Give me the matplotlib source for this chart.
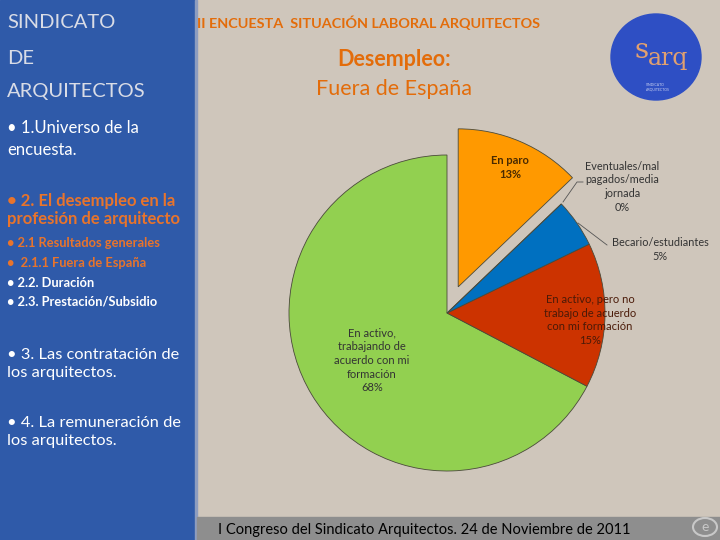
import matplotlib.pyplot as plt
from matplotlib.patches import Rectangle, Ellipse, Circle

# pie data (order: counterclockwise from top)
labels = ['En activo,\ntrabajando de\nacuerdo con mi\nformación',
          'En activo, pero no\ntrabajo de acuerdo\ncon mi formación',
          'Becario/estudiantes',
          'Eventuales/mal\npagados/media\njornada',
          'En paro']
values = [68, 15, 5, 0, 13]
pct_labels = ['68%', '15%', '5%', '0%', '13%']
colors = ['#92D050', '#CC3300', '#0070C0', '#7F7F7F', '#FF9900']
explode = [0, 0, 0, 0, 0.18]

menu_items = [
    ('• 1.Universo de la\nencuesta.', 'white', 12, 'normal'),
    ('• 2. El desempleo en la\nprofesión de arquitecto', '#E8742C', 12, 'bold'),
    ('• 2.1 Resultados generales', '#E8742C', 9.3, 'bold'),
    ('•  2.1.1 Fuera de España', '#E8742C', 9.3, 'bold'),
    ('• 2.2. Duración', 'white', 9.3, 'bold'),
    ('• 2.3. Prestación/Subsidio', 'white', 9.3, 'bold'),
    ('• 3. Las contratación de\nlos arquitectos.', 'white', 11.8, 'normal'),
    ('• 4. La remuneración de\nlos arquitectos.', 'white', 11.8, 'normal'),
]
menu_y = [139, 210, 243, 263, 283, 302, 364, 432]
menu_spacing = [1.44, 1.2, 1, 1, 1, 1, 1.4, 1.34]

plt.rcParams['font.family'] = ['Lato', 'DejaVu Sans']

W, H = 720, 540
fig = plt.figure(figsize=(7.2, 5.4), dpi=100)


def fx(x):
    return x / W


def fy(y):
    return 1 - y / H


# slide background
fig.add_artist(Rectangle((0, 0), 1, 1, transform=fig.transFigure, color='#CFC6BB', zorder=0))
fig.add_artist(Rectangle((0, 0), fx(195), 1, transform=fig.transFigure, color='#2F5AA9', zorder=0))
fig.add_artist(Rectangle((fx(195), 0), fx(2), 1, transform=fig.transFigure, color='#8E9DBF', zorder=0))
fig.add_artist(Rectangle((fx(197), 0), 1, 23 / H, transform=fig.transFigure, color='#8E8E8E', zorder=0))

# left panel header
for txt, y in [('SINDICATO', 22), ('DE', 58), ('ARQUITECTOS', 92)]:
    fig.text(fx(7), fy(y), txt, color='#D9DCE6', fontsize=14.5, va='center', ha='left')

for (txt, col, size, weight), y, ls in zip(menu_items, menu_y, menu_spacing):
    fig.text(fx(7), fy(y), txt, color=col, fontsize=size, fontweight=weight,
             va='center', ha='left', linespacing=ls)

# titles
fig.text(fx(197), fy(23), 'II ENCUESTA  SITUACIÓN LABORAL ARQUITECTOS', color='#E36C0A',
         fontsize=10.4, fontweight='bold', va='center', ha='left')
fig.text(fx(394), fy(60), 'Desempleo:', color='#E36C0A', fontsize=15.5, fontweight='bold',
         va='center', ha='center')
fig.text(fx(394), fy(89), 'Fuera de España', color='#E36C0A', fontsize=15.5,
         va='center', ha='center')

# logo
fig.add_artist(Ellipse((fx(656), fy(57)), 90 / W, 86 / H, transform=fig.transFigure,
                       color='#2E4FC4', zorder=1))
fig.text(fx(649), fy(50), 's', color='#E0A070', fontsize=20, va='center', ha='right',
         family='DejaVu Serif', zorder=2)
fig.text(fx(648), fy(58), 'arq', color='#E0A070', fontsize=17, va='center', ha='left',
         family='DejaVu Serif', zorder=2)
fig.text(fx(646), fy(87), 'SINDICATO\nARQUITECTOS', color='#C8D0F0', fontsize=2.5,
         va='center', ha='left', zorder=2)

# footer
fig.text(fx(218), fy(530), 'I Congreso del Sindicato Arquitectos. 24 de Noviembre de 2011',
         color='black', fontsize=10.5, va='center', ha='left')
fig.add_artist(Circle((fx(705), fy(527)), 9 / H, transform=fig.transFigure, fill=False,
                      ec='#C8C8C8', lw=1.5, zorder=1))
fig.text(fx(705), fy(527), 'e', color='#C8C8C8', fontsize=10, va='center', ha='center')

# pie: centre at (447, 313) px, radius 158 px
cx, cy, r, half = 447, 313, 158, 250
ax = fig.add_axes([fx(cx - half), fy(cy + half), 2 * half / W, 2 * half / H])
ax.pie(values, colors=colors, explode=explode, startangle=90, counterclock=True,
       wedgeprops=dict(edgecolor='#4A4A3A', linewidth=0.6))
ax.set_xlim(-half / r, half / r)
ax.set_ylim(-half / r, half / r)
ax.set_aspect('equal')
ax.axis('off')

lab = [l + '\n' + p for l, p in zip(labels, pct_labels)]
ax.text(-0.475, -0.30, lab[0], ha='center', va='center', fontsize=8, color='#333333',
        linespacing=1.3)
ax.text(0.905, -0.045, lab[1], ha='center', va='center', fontsize=8, color='#4A1A08',
        linespacing=1.3)
ax.text(1.35, 0.40, lab[2], ha='center', va='center', fontsize=7.8, color='#333333',
        linespacing=1.3)
ax.text(1.11, 0.80, lab[3], ha='center', va='center', fontsize=7.8, color='#333333',
        linespacing=1.3)
ax.text(0.40, 0.92, lab[4], ha='center', va='center', fontsize=8, color='#4A2A00',
        fontweight='bold', linespacing=1.3)

# leader lines
ax.plot([(563 - cx) / r, (577 - cx) / r, (583 - cx) / r],
        [(cy - 202) / r, (cy - 182) / r, (cy - 182) / r], color='#555555', lw=0.6)
ax.plot([(578 - cx) / r, (607 - cx) / r], [(cy - 223) / r, (cy - 245) / r],
        color='#555555', lw=0.6)

fig.savefig('out.png', dpi=100)
